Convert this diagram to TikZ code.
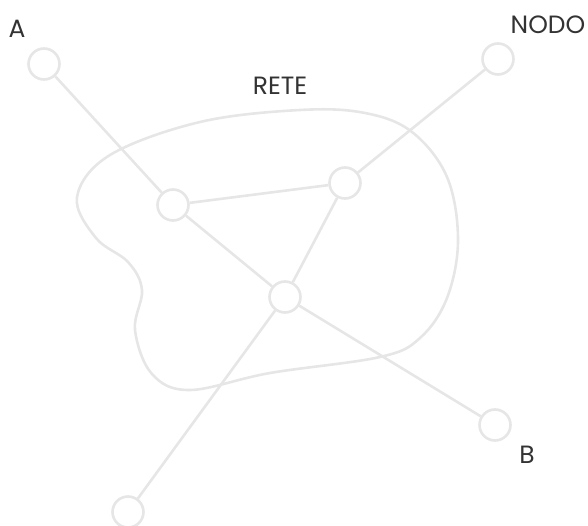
\documentclass[tikz,border=0pt]{standalone}
\usepackage{fontspec}
\setmainfont{Poppins}
\definecolor{linegray}{HTML}{E6E6E6}
\definecolor{textgray}{HTML}{333333}
\begin{document}
\begin{tikzpicture}[x=1pt,y=-1pt,
  netnode/.style={circle,draw=linegray,line width=2.6pt,fill=white,minimum size=31pt,inner sep=0pt},
  link/.style={draw=linegray,line width=2.6pt},
  lbl/.style={text=textgray,font=\fontsize{25}{25}\selectfont,inner sep=0pt}]
\useasboundingbox (0,0) rectangle (588,526);
% cloud
\draw[linegray,line width=2.6pt] plot[smooth cycle,tension=0.6] coordinates {
 (77,197) (110,155) (200,122) (300,110) (365,113) (412,132) (447,177) (458,240)
 (447,298) (420,338) (380,357) (270,373) (190,390) (152,374) (135,330) (142,290)
 (128,262) (96,238)};
% nodes
\node[netnode] (a) at (44,64) {};
\node[netnode] (nodo) at (498,59) {};
\node[netnode] (n1) at (173,205) {};
\node[netnode] (n2) at (345,183) {};
\node[netnode] (n3) at (285,297) {};
\node[netnode] (b) at (495,425) {};
\node[netnode] (c) at (128,512) {};
% links
\path[link] (a) -- (n1);
\path[link] (n1) -- (n3);
\path[link] (n1) -- (n2);
\path[link] (n2) -- (nodo);
\path[link] (n2) -- (n3);
\path[link] (n3) -- (b);
\path[link] (n3) -- (c);
% labels
\node[lbl] (la) at (17,29) {A};
\node[lbl] (lnodo) at (548,25) {NODO};
\node[lbl] (lrete) at (280,86) {RETE};
\node[lbl] (lb) at (527,455) {B};
\end{tikzpicture}
\end{document}
